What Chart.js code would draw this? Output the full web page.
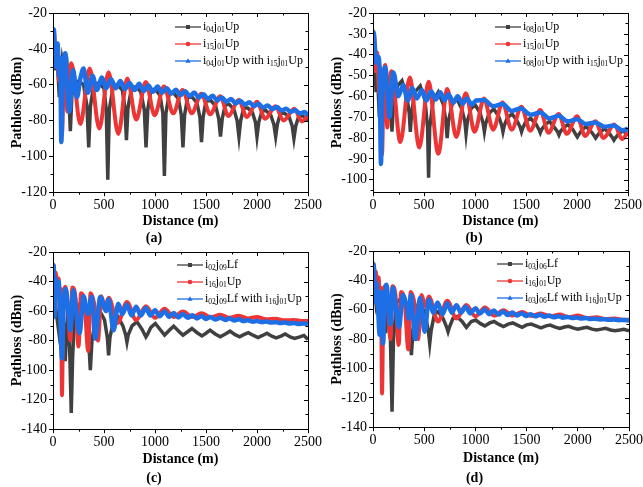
<!DOCTYPE html>
<html>
<head>
<meta charset="utf-8">
<script src="https://cdn.jsdelivr.net/npm/chart.js@4"></script>
<style>
  html, body { margin: 0; padding: 0; background: #fff; overflow: hidden; }
  canvas { position: absolute; }
</style>
</head>
<body>
<canvas id="pa" width="323" height="247" style="left:0;top:0"></canvas>
<canvas id="pb" width="323" height="247" style="left:320px;top:0"></canvas>
<canvas id="pc" width="323" height="247" style="left:0;top:240px"></canvas>
<canvas id="pd" width="325" height="247" style="left:320px;top:240px"></canvas>
<script>
// distance (m) / pathloss (dBm) pairs (peaks and troughs)
const i04j01Up = [[0,-40],[8,-31],[25,-52],[40,-44],[62,-67],[90,-47],[120,-58],[140,-52],[155,-66],[170,-86],[185,-66],[210,-60],[250,-58],[300,-60],[333,-72],[350,-95],[367,-72],[400,-60],[450,-59],[500,-62],[522,-74],[537,-113],[552,-74],[590,-61],[630,-60],[680,-63],[705,-73],[720,-91],[735,-73],[770,-62],[815,-61],[860,-64],[895,-74],[912,-95],[929,-74],[960,-63],[1000,-62.5],[1050,-66],[1077,-76],[1092,-111],[1107,-76],[1140,-65],[1180,-64.5],[1230,-68],[1258,-77],[1274,-95],[1290,-77],[1320,-67],[1365,-67],[1410,-70],[1440,-78],[1456,-92],[1472,-78],[1500,-69],[1550,-69],[1595,-72],[1625,-79],[1642,-89],[1659,-79],[1690,-71],[1730,-71],[1775,-74],[1805,-80],[1823,-89],[1840,-80],[1870,-73],[1910,-73],[1955,-75.5],[1985,-81],[2000,-89],[2017,-81],[2050,-74.5],[2090,-74.5],[2135,-77],[2165,-82],[2183,-89],[2200,-82],[2230,-76],[2270,-76],[2315,-78],[2345,-83],[2362,-90],[2380,-83],[2410,-77.5],[2450,-77.5],[2500,-80]];
const i15j01Up = [[0,-38],[10,-31],[25,-48],[40,-39],[60,-58],[72,-47],[88,-88],[105,-52],[121,-45],[140,-75],[160,-55],[180,-48],[268,-82],[360,-51],[454,-84.5],[545,-53],[640,-87.5],[728,-56.5],[816,-79.5],[910,-58.5],[996,-77],[1088,-61],[1178,-76],[1270,-63],[1360,-76],[1455,-65],[1541,-76.5],[1640,-66.5],[1720,-77.5],[1820,-68.5],[1900,-78],[2000,-69.5],[2080,-79],[2180,-72],[2260,-80],[2365,-73.5],[2442,-80.5],[2500,-77]];
const i04j01UpWithI15 = [[0,-33],[8,-29],[25,-50],[45,-37],[60,-55],[70,-45],[82,-92],[95,-60],[121,-42.5],[140,-60],[160,-75],[198,-52],[235,-67],[270,-56],[300,-51],[340,-64.5],[388,-55],[430,-63],[480,-56],[522,-62],[570,-57],[615,-62],[660,-58],[705,-62.5],[750,-59],[800,-63],[845,-59.5],[890,-63.5],[935,-60.5],[980,-64],[1025,-61],[1070,-64.5],[1115,-62],[1160,-65],[1205,-62.8],[1250,-65.8],[1295,-63.6],[1340,-66.5],[1385,-64.4],[1430,-67.2],[1475,-65.3],[1520,-68],[1565,-66.2],[1610,-68.8],[1655,-67.1],[1700,-69.6],[1745,-68],[1790,-70.4],[1835,-68.9],[1880,-71.2],[1925,-69.8],[1970,-72],[2015,-70.7],[2060,-72.8],[2105,-71.6],[2150,-73.6],[2195,-72.5],[2240,-74.4],[2285,-73.4],[2330,-75.2],[2375,-74.3],[2420,-76],[2465,-75.3],[2500,-77]];

const i08j01Up = [[0,-40],[10,-33],[30,-58],[45,-50],[62,-70],[85,-52],[110,-60],[125,-72],[150,-56],[175,-64],[186,-77],[200,-64],[240,-55],[284,-52.5],[330,-60],[355,-68],[366,-77],[378,-68],[410,-58],[463,-55],[510,-62],[535,-75],[545,-99],[556,-75],[590,-62],[640,-58],[690,-64],[715,-72],[727,-80],[740,-72],[775,-64],[820,-61],[870,-66],[900,-72],[912,-78],[925,-72],[960,-66],[1000,-64],[1050,-68],[1080,-73],[1092,-77],[1105,-73],[1140,-68],[1185,-66],[1235,-70],[1262,-74],[1274,-77],[1287,-74],[1320,-70],[1365,-68.5],[1415,-72],[1444,-75],[1456,-77],[1469,-75],[1500,-72],[1545,-70.5],[1600,-73.5],[1628,-76],[1640,-77.5],[1652,-76],[1690,-73.5],[1730,-72],[1780,-75],[1810,-77],[1823,-78.5],[1836,-77],[1870,-75],[1910,-73.5],[1960,-76],[1990,-78.5],[2003,-79.5],[2016,-78.5],[2050,-76],[2090,-74.5],[2140,-77],[2170,-79],[2183,-80],[2196,-79],[2230,-77],[2270,-75.5],[2320,-78],[2350,-80],[2362,-81],[2375,-80],[2410,-78],[2450,-76.5],[2500,-78.5]];
const i08j01UpWithI15 = [[0,-33],[6,-29],[23,-39],[35,-44],[50,-41],[65,-48],[78,-92.5],[90,-62],[121,-46],[140,-56],[160,-70],[200,-48.5],[248,-60],[296,-54.6],[340,-62],[385,-56],[430,-61],[480,-57],[525,-62],[570,-57.5],[615,-61.5],[660,-58],[700,-62],[740,-59],[790,-63],[830,-60],[880,-63.5],[920,-61],[970,-64],[1010,-62],[1090,-61.8],[1180,-64.8],[1270,-63.7],[1360,-67],[1450,-65.8],[1545,-68.8],[1640,-67.7],[1730,-70.6],[1820,-69.3],[1910,-72],[2000,-71],[2090,-73.3],[2180,-72.5],[2270,-74.6],[2360,-74],[2450,-76.3],[2500,-75.5]];

const i02j09Lf = [[0,-48],[10,-40],[30,-60],[55,-73],[80,-55],[105,-70],[120,-94],[135,-70],[150,-58],[165,-90],[179,-129],[193,-90],[215,-60],[265,-55],[320,-62],[350,-80],[366,-100],[382,-80],[420,-64],[463,-60.5],[505,-66],[533,-78],[545,-90],[558,-78],[595,-66],[640,-64],[685,-70],[712,-76],[725,-81],[738,-76],[775,-70],[823,-67.3],[870,-72],[900,-76],[911,-77.5],[925,-76],[960,-71],[1003,-68.4],[1050,-72.5],[1094,-76.3],[1140,-73],[1183,-70.2],[1230,-73.5],[1274,-76.3],[1320,-74],[1362,-71.8],[1410,-74.5],[1460,-76.8],[1500,-75],[1540,-72.9],[1590,-75.5],[1640,-77.4],[1690,-75.5],[1735,-73.6],[1785,-76],[1830,-77.4],[1870,-76],[1915,-74.6],[1965,-76.5],[2010,-77.9],[2055,-76.5],[2097,-75],[2145,-77],[2188,-78.1],[2235,-77],[2277,-75.5],[2325,-77.5],[2368,-78.5],[2420,-77.5],[2460,-76.5],[2500,-79.2]];
const i16j01Up = [[0,-36],[8,-29],[18,-40],[28,-34],[42,-48],[55,-38],[70,-62],[78,-45],[88,-117],[100,-60],[122,-43.5],[150,-62],[170,-80],[190,-44],[222,-52],[250,-84],[275,-48],[310,-55],[345,-87],[368,-48],[410,-58],[440,-80],[475,-50],[510,-58],[545,-51],[635,-68],[725,-53.8],[815,-66],[911,-56.7],[1000,-64.5],[1094,-58.5],[1183,-64],[1274,-60.3],[1365,-64],[1456,-61.5],[1545,-64.2],[1640,-62.5],[1730,-64.5],[1823,-63.2],[1910,-65],[2000,-64],[2090,-65.6],[2183,-65.2],[2270,-66.3],[2362,-66],[2450,-66.8],[2500,-66.8]];
const i02j09LfWithI16 = [[0,-34],[6,-29],[15,-64],[25,-38],[40,-50],[55,-40],[70,-60],[88,-92],[105,-55],[125,-45],[150,-60],[170,-73],[200,-46],[230,-62],[260,-75],[300,-50],[340,-62],[380,-50.5],[415,-78.5],[463,-50.4],[520,-60],[545,-52],[594,-73],[640,-55],[680,-62],[725,-55.5],[770,-63],[815,-57],[860,-63],[911,-58],[955,-63],[1000,-59.5],[1045,-63.5],[1094,-60.3],[1140,-64],[1183,-61.3],[1230,-64.3],[1274,-62],[1320,-64.6],[1365,-62.8],[1410,-65],[1456,-63.4],[1500,-65.3],[1545,-64],[1590,-65.7],[1640,-64.6],[1690,-66],[1730,-65.1],[1780,-66.4],[1823,-65.6],[1870,-66.8],[1910,-66.2],[1960,-67.2],[2000,-66.7],[2050,-67.5],[2090,-67.1],[2140,-67.8],[2183,-67.5],[2230,-68.1],[2270,-67.8],[2320,-68.4],[2362,-68.1],[2410,-68.7],[2450,-68.4],[2500,-68.8]];

const i03j06Lf = [[0,-45],[10,-35],[30,-55],[50,-48],[70,-62],[98,-74],[110,-58],[124,-76],[140,-55],[170,-80],[186,-129.5],[200,-80],[230,-55],[277,-52.2],[330,-60],[360,-75],[375,-91],[390,-75],[420,-58],[456,-55.7],[505,-62],[540,-74],[554,-83],[568,-74],[600,-63],[635,-61.3],[685,-66],[720,-72],[733,-75],[746,-72],[780,-66],[820,-64.7],[870,-68],[912,-72],[960,-68],[1003,-67],[1050,-69.5],[1092,-71],[1140,-69],[1183,-68],[1230,-70],[1274,-71.5],[1320,-69.8],[1365,-69],[1410,-70.5],[1456,-72],[1500,-70.3],[1545,-69.8],[1590,-71],[1640,-72.3],[1690,-71],[1730,-70.5],[1780,-71.8],[1823,-72.8],[1870,-71.8],[1910,-71.3],[1960,-72.5],[2000,-73.3],[2050,-72.5],[2090,-72],[2140,-73.2],[2183,-73.8],[2230,-73.2],[2270,-72.7],[2320,-73.8],[2362,-74.3],[2410,-73.8],[2450,-73.3],[2500,-74.3]];
const i03j06LfWithI16 = [[0,-33],[5,-28.6],[15,-40],[25,-55],[35,-42],[50,-60],[65,-77],[80,-48],[98,-83],[115,-55],[131,-43],[150,-55],[170,-70],[195,-45],[225,-60],[255,-72],[290,-50],[330,-58],[350,-66],[370,-50],[414,-80],[460,-52],[505,-75],[545,-53],[590,-62],[630,-55],[680,-63],[725,-55.5],[770,-62],[815,-57],[860,-62],[905,-58],[950,-62.5],[1000,-59],[1045,-62.6],[1090,-59.8],[1135,-63],[1180,-60.5],[1225,-63.3],[1270,-61.2],[1315,-63.6],[1360,-61.8],[1405,-63.9],[1450,-62.4],[1495,-64.2],[1540,-63],[1585,-64.5],[1630,-63.5],[1675,-64.8],[1720,-64],[1765,-65.1],[1810,-64.5],[1855,-65.4],[1900,-64.9],[1945,-65.7],[1990,-65.3],[2035,-66],[2080,-65.7],[2125,-66.3],[2170,-66.1],[2215,-66.6],[2260,-66.4],[2305,-66.9],[2350,-66.7],[2395,-67.1],[2440,-67],[2500,-67.3]];

// legend labels, _{..} = subscript
const legendA = ['i_{04}j_{01}Up', 'i_{15}j_{01}Up', 'i_{04}j_{01}Up with i_{15}j_{01}Up'];
const legendB = ['i_{08}j_{01}Up', 'i_{15}j_{01}Up', 'i_{08}j_{01}Up with i_{15}j_{01}Up'];
const legendC = ['i_{02}j_{09}Lf', 'i_{16}j_{01}Up', 'i_{02}j_{09}Lf with i_{16}j_{01}Up'];
const legendD = ['i_{03}j_{06}Lf', 'i_{16}j_{01}Up', 'i_{03}j_{06}Lf with i_{16}j_{01}Up'];

const xMin = 0, xMax = 2500, xStep = 500;
const xTitle = 'Distance (m)';
const yTitle = 'Pathloss (dBm)';

const FONT = 'Liberation Serif';
const COLORS = ['#404040', '#ee3535', '#1e6fe6'];
const WIDTHS = [3.5, 4, 4.5];
const MARKERS = ['rect', 'circle', 'triangle'];

const framePlugin = {
    id: 'frame',
    afterDraw(chart) {
        const ctx = chart.ctx;
        const a = chart.chartArea;
        const xs = chart.scales.x, ys = chart.scales.y;
        ctx.save();
        ctx.strokeStyle = '#000';
        ctx.lineWidth = 1;
        ctx.strokeRect(Math.round(a.left) + 0.5, Math.round(a.top) + 0.5,
            Math.round(a.right) - Math.round(a.left), Math.round(a.bottom) - Math.round(a.top));
        ctx.beginPath();
        let st = xs.options.ticks.stepSize / 2;
        for (let v = Math.ceil(xs.min / st) * st; v <= xs.max; v += st) {
            const p = Math.round(xs.getPixelForValue(v)) + 0.5;
            const major = Math.abs(v / (2 * st) - Math.round(v / (2 * st))) < 1e-6;
            ctx.moveTo(p, a.top); ctx.lineTo(p, a.top + (major ? 4 : 2.5));
            if (!major) { ctx.moveTo(p, a.bottom); ctx.lineTo(p, a.bottom + 2.5); }
        }
        st = ys.options.ticks.stepSize / 2;
        for (let v = Math.ceil(ys.min / st) * st; v <= ys.max; v += st) {
            const p = Math.round(ys.getPixelForValue(v)) + 0.5;
            const major = Math.abs(v / (2 * st) - Math.round(v / (2 * st))) < 1e-6;
            ctx.moveTo(a.right, p); ctx.lineTo(a.right - (major ? 4 : 2.5), p);
            if (!major) { ctx.moveTo(a.left, p); ctx.lineTo(a.left - 2.5, p); }
        }
        ctx.stroke();
        ctx.restore();
    }
};

function drawRich(ctx, text, x, y) {
    const parts = text.split(/(_\{[^}]*\})/);
    for (const part of parts) {
        if (!part) continue;
        if (part.startsWith('_{')) {
            const s = part.slice(2, -1);
            ctx.font = '7.5px "' + FONT + '"';
            ctx.fillText(s, x, y + 3);
            x += ctx.measureText(s).width;
        } else {
            ctx.font = '12px "' + FONT + '"';
            ctx.fillText(part, x, y);
            x += ctx.measureText(part).width;
        }
    }
}

const legendPlugin = {
    id: 'subLegend',
    afterDraw(chart, args, opts) {
        const ctx = chart.ctx;
        ctx.save();
        ctx.textBaseline = 'middle';
        opts.labels.forEach((lab, i) => {
            const y = opts.y + i * 17;
            const x0 = opts.x, x1 = opts.x + 26;
            ctx.strokeStyle = COLORS[i];
            ctx.fillStyle = COLORS[i];
            ctx.lineWidth = 1.3;
            ctx.beginPath(); ctx.moveTo(x0, y); ctx.lineTo(x1, y); ctx.stroke();
            const cx = (x0 + x1) / 2;
            ctx.beginPath();
            if (MARKERS[i] === 'rect') ctx.rect(cx - 2, y - 2, 4, 4);
            else if (MARKERS[i] === 'circle') ctx.arc(cx, y, 2.3, 0, Math.PI * 2);
            else { ctx.moveTo(cx, y - 2.8); ctx.lineTo(cx + 2.6, y + 1.8); ctx.lineTo(cx - 2.6, y + 1.8); ctx.closePath(); }
            ctx.fill();
            ctx.fillStyle = '#000';
            drawRich(ctx, lab, x1 + 2, y);
        });
        ctx.restore();
    }
};

function makePanel(p) {
    const datasets = p.series.map((s, i) => ({
        data: s,
        borderColor: COLORS[i],
        borderWidth: WIDTHS[i],
        pointRadius: 0,
        tension: i === 0 ? 0 : 0.4,
        cubicInterpolationMode: i === 0 ? 'default' : 'monotone',
        order: 3 - i
    }));
    new Chart(document.getElementById(p.id), {
        type: 'line',
        data: { datasets: datasets },
        plugins: [framePlugin, legendPlugin],
        options: {
            responsive: false,
            animation: false,
            devicePixelRatio: 1,
            layout: { padding: { left: 0, right: p.padRight, top: p.padTop, bottom: 0 } },
            plugins: {
                legend: { display: false },
                tooltip: { enabled: false },
                title: {
                    display: true, position: 'bottom', text: p.caption, color: '#000', padding: 0,
                    font: { family: FONT, size: 14, weight: 'bold', lineHeight: 1.2 }
                },
                subLegend: { labels: p.labels, x: p.legendX, y: p.legendY }
            },
            scales: {
                x: {
                    type: 'linear', min: xMin, max: xMax,
                    afterFit: s => { s.height = p.xAxisH; },
                    grid: { drawOnChartArea: false, tickLength: 4, color: '#000' },
                    border: { color: '#000' },
                    ticks: { stepSize: xStep, color: '#000', padding: 1, maxRotation: 0, autoSkip: false,
                        callback: v => String(v),
                        font: { family: FONT, size: 14 } },
                    title: { display: true, text: xTitle, color: '#000', padding: { top: 0, bottom: p.xTitlePad },
                        font: { family: FONT, size: 14, weight: 'bold', lineHeight: 1.2 } }
                },
                y: {
                    min: p.yMin, max: p.yMax,
                    afterFit: s => { s.width = 53; },
                    grid: { drawOnChartArea: false, tickLength: 4, color: '#000' },
                    border: { color: '#000' },
                    ticks: { stepSize: p.yStep, color: '#000', padding: 2, includeBounds: false,
                        callback: v => String(v),
                        font: { family: FONT, size: 14 } },
                    title: { display: true, text: yTitle, color: '#000', padding: { top: 9, bottom: 0 },
                        font: { family: FONT, size: 14, weight: 'bold', lineHeight: 1.2 } }
                }
            }
        }
    });
}

makePanel({ id: 'pa', caption: '(a)', series: [i04j01Up, i15j01Up, i04j01UpWithI15], labels: legendA,
    yMin: -120, yMax: -20, yStep: 20, padTop: 13, padRight: 15, xAxisH: 38, xTitlePad: 0, legendX: 175, legendY: 27 });
makePanel({ id: 'pb', caption: '(b)', series: [i08j01Up, i15j01Up, i08j01UpWithI15], labels: legendB,
    yMin: -106, yMax: -20, yStep: 10, padTop: 13, padRight: 15, xAxisH: 38, xTitlePad: 0, legendX: 175, legendY: 27 });
makePanel({ id: 'pc', caption: '(c)', series: [i02j09Lf, i16j01Up, i02j09LfWithI16], labels: legendC,
    yMin: -140, yMax: -20, yStep: 20, padTop: 12, padRight: 15, xAxisH: 41, xTitlePad: 2, legendX: 177, legendY: 25 });
makePanel({ id: 'pd', caption: '(d)', series: [i03j06Lf, i16j01Up, i03j06LfWithI16], labels: legendD,
    yMin: -140, yMax: -20, yStep: 20, padTop: 11, padRight: 16, xAxisH: 43, xTitlePad: 3, legendX: 177, legendY: 24 });
</script>
</body>
</html>
